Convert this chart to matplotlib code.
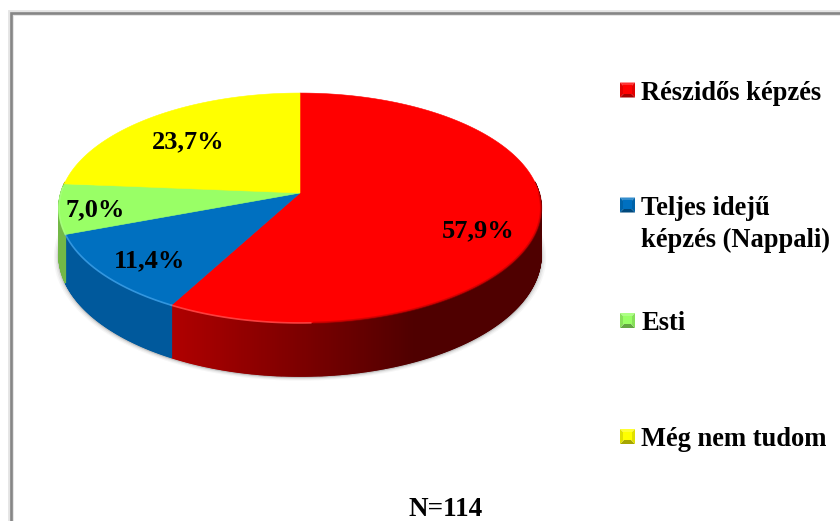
import numpy as np
import matplotlib
matplotlib.use("Agg")
import matplotlib.pyplot as plt

categories = ["Részidős képzés", "Teljes idejű\nképzés (Nappali)", "Esti", "Még nem tudom"]
values = [57.9, 11.4, 7.0, 23.7]
sample_label = "N=114"
top_colors = ["#ff0000", "#0070c0", "#99ff66", "#ffff00"]
rim_colors = ["#ff4a4a", "#3c9ee6", "#a8ff80", "#ffff30"]
side_near = [(0.70, 0, 0), (0.0, 0.35, 0.61), (0.45, 0.72, 0.28), (0.7, 0.7, 0)]
side_far = [(0.31, 0, 0), (0.03, 0.42, 0.69), (0.50, 0.75, 0.32), (0.7, 0.7, 0)]
label_pos = [(478, 231), (150, 261), (95, 210), (188, 142)]
legend_y = [90, 205, 320.5, 436.5]
legend_text_y = [94, 224.5, 324, 440]

plt.rcParams["font.family"] = ["Liberation Serif", "DejaVu Serif"]
fig = plt.figure(figsize=(8.4, 5.21), dpi=100)
ax = fig.add_axes([0, 0, 1, 1])
ax.set_xlim(0, 840)
ax.set_ylim(521, 0)
ax.axis("off")

# chart frame, cropped by the picture edge
ax.plot([11, 11, 842], [523, 13, 13], color="#e4e4e4", lw=4.2, solid_joinstyle="miter", zorder=0)
ax.plot([11, 11, 842], [523, 13, 13], color="#868686", lw=1.9, solid_joinstyle="miter", zorder=1)

CX, CY, RX, RY, K, DEPTH = 300, 193, 239, 113, 0.1304, 46.3


def project(theta, drop=False):
    x, y = np.cos(theta), np.sin(theta)
    w = 1 + K * y
    px = CX + RX * x / w
    py = CY - RY * y / w
    if drop:
        py = py + DEPTH / w
    return px, py


# soft shadow round the lower wall
full = np.linspace(-np.pi, np.pi, 361)
sx, sy = project(full, drop=True)
for grow, a in [(5, 0.05), (3.5, 0.08), (2, 0.12), (1, 0.18)]:
    f = 1 + grow / RX
    ax.fill(CX + (sx - CX) * f, CY + 15 + (sy - CY - 15) * f + 1, color="#555555", alpha=a, lw=0, zorder=2)

starts = 90 - 3.6 * np.concatenate([[0], np.cumsum(values)[:-1]])
ends = 90 - 3.6 * np.cumsum(values)

# walls
for i in range(len(values)):
    th = np.radians(np.linspace(starts[i], ends[i], max(int(starts[i] - ends[i]) * 4, 2)))
    for a, b in zip(th[:-1], th[1:]):
        if np.sin((a + b) / 2) > 0.1:
            continue
        t = np.clip((np.cos((a + b) / 2) + 0.5) / 0.92, 0, 1)
        c = tuple(n + (m - n) * t for n, m in zip(side_near[i], side_far[i]))
        x1, y1 = project(np.array([a, b]))
        x2, y2 = project(np.array([b, a]), drop=True)
        ax.fill(np.r_[x1, x2], np.r_[y1, y2], color=c, lw=1.0, ec=c, zorder=3)

# top faces
for i in range(len(values)):
    th = np.radians(np.linspace(starts[i], ends[i], 300))
    x, y = project(th)
    ax.fill(np.r_[CX, x], np.r_[CY, y], color=top_colors[i], lw=0.4, ec=top_colors[i], zorder=4)
    lit = (np.sin(th) < 0.05) & (np.cos(th) < 0.05)
    if lit.any():
        ax.plot(x[lit], y[lit], color=rim_colors[i], lw=1.2, alpha=0.85, zorder=5)
    dim = (np.sin(th) < 0.0) & (np.cos(th) >= 0.05)
    if dim.any():
        ax.plot(x[dim], y[dim], color="#b00000", lw=1.6, alpha=0.5, zorder=5)
    ax.text(*label_pos[i], f"{values[i]:.1f}%".replace(".", ","), ha="center", va="center",
            fontsize=19, fontweight="bold", color="black", zorder=6)

# legend
for i, name in enumerate(categories):
    ym = legend_y[i]
    x0, x1, y0, y1 = 620, 635, ym - 7.5, ym + 7.5
    c = np.array(matplotlib.colors.to_rgb(top_colors[i]))
    hi = np.minimum(c * 0.8 + 0.2, 1)
    ax.fill([x0, x1, 627.5], [y0, y0, ym], color=hi, lw=0, zorder=4)
    ax.fill([x0, x1, 627.5], [y1, y1, ym], color=c * 0.65, lw=0, zorder=4)
    ax.fill([x0, x0, 627.5], [y0, y1, ym], color=c * 0.88, lw=0, zorder=4)
    ax.fill([x1, x1, 627.5], [y0, y1, ym], color=c * 0.88, lw=0, zorder=4)
    ax.fill([x0 + 3, x1 - 3, x1 - 3, x0 + 3], [y0 + 2.5, y0 + 2.5, y1 - 4, y1 - 4],
            color=c, lw=0, zorder=5)
    ax.text(641, legend_text_y[i], name, ha="left", va="center", fontsize=19.1,
            fontweight="bold", color="black", linespacing=1.38, zorder=6)

ax.text(446, 510, sample_label, ha="center", va="center", fontsize=19.5, fontweight="bold", color="black")

fig.savefig("out.png", dpi=100)
